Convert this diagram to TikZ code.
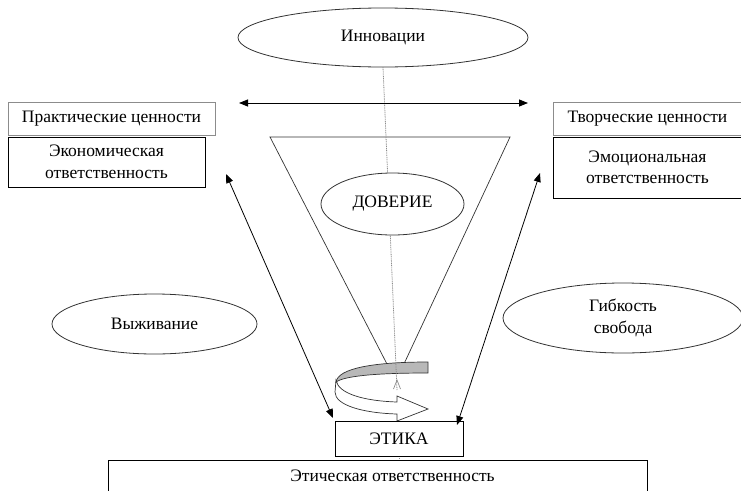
\documentclass[tikz,border=0pt]{standalone}
\usepackage{fontspec}
\setmainfont{Liberation Serif}
\newfontfamily\rusfont{Liberation Serif}
\usetikzlibrary{shapes.geometric,arrows.meta}
\pgfdeclarelayer{bg}
\pgfsetlayers{bg,main}
\begin{document}
\begin{tikzpicture}[x=1pt,y=-1pt,
  txt/.style={font=\rusfont\fontsize{17.5}{21.5}\selectfont},
  oval/.style={ellipse, draw=black!80, line width=0.8pt, fill=white, inner sep=0pt, txt, align=center},
  valbox/.style={rectangle, draw=black!45, line width=0.8pt, fill=white, inner sep=0pt, txt, align=center},
  respbox/.style={rectangle, draw=black, line width=0.8pt, fill=white, inner sep=0pt, txt, align=center},
  dbl/.style={line width=0.8pt, {Triangle[length=9pt,width=7pt]}-{Triangle[length=9pt,width=7pt]}},
  funnel/.style={line width=0.7pt, draw=black!80},
  grayline/.style={draw=black!45, line width=0.8pt, dash pattern=on 1pt off 0.8pt},
  ribbon/.style={draw=black!80, line width=0.7pt}]
\useasboundingbox (0,0) rectangle (741,490);
\clip (0,0) rectangle (741,490);

% nodes
\node[oval, minimum width=290pt, minimum height=59pt] (innov) at (383,37.5) {Инновации};
\node[oval, minimum width=143pt, minimum height=62pt] (dov) at (392.5,204) {ДОВЕРИЕ};
\node[oval, minimum width=205pt, minimum height=60pt] (surv) at (154.5,324) {Выживание};
\node[oval, minimum width=240pt, minimum height=70pt] (flex) at (623,318) {Гибкость\\свобода};
\node[valbox, minimum width=207pt, minimum height=33pt] (prakt) at (111.5,118.5) {Практические ценности};
\node[respbox, minimum width=197pt, minimum height=50pt] (econ) at (106.5,162) {Экономическая\\ответственность};
\node[valbox, minimum width=189pt, minimum height=33pt] (tvor) at (647.5,118.5) {Творческие ценности};
\node[respbox, minimum width=189pt, minimum height=61pt] (emo) at (647.5,167.5) {Эмоциональная\\ответственность};
\node[respbox, minimum width=128pt, minimum height=35pt] (etika) at (399,438.5) {ЭТИКА};
\node[respbox, minimum width=539pt, minimum height=32pt] (eresp) at (377.5,476) {\hspace*{30pt}Этическая ответственность};

% free ends
\coordinate (ha) at (239,103);
\coordinate (hb) at (528,103);
\coordinate (la) at (226,174);
\coordinate (lb) at (333,418);
\coordinate (ra) at (540,173);
\coordinate (rb) at (457,425);
\coordinate (ftl) at (270,137);
\coordinate (ftr) at (510,137);
\coordinate (fbl) at (388,366);
\coordinate (fbr) at (403,366);
\coordinate (sp) at (397,390);

\begin{pgfonlayer}{bg}
  % funnel
  \draw[funnel] (fbl) -- (ftl) -- (ftr) -- (fbr);
  % ribbon: white front band with arrow head
  \draw[ribbon, fill=white] (336,380) .. controls (338,394) and (365,401) .. (397,402)
     -- (397,396) -- (428,409) -- (397,421) -- (397,414)
     .. controls (362,413) and (335,405) .. (335,392) -- cycle;
  % ribbon: grey top band
  \draw[ribbon, fill=black!28] (428,362) .. controls (375,362) and (338,368) .. (336,382)
     .. controls (346,375) and (385,373) .. (428,373) -- cycle;
  % grey axis line
  \draw[grayline] (sp) -- (innov.south);
  \draw[draw=black!45, line width=0.7pt] (393.5,389) -- (397,380) -- (400.5,389);
  \draw[grayline] (etika.south) -- (eresp.north -| etika.south);
\end{pgfonlayer}

% arrows
\draw[dbl] (ha) -- (hb);
\draw[dbl] (la) -- (lb);
\draw[dbl] (ra) -- (rb);
\end{tikzpicture}
\end{document}
